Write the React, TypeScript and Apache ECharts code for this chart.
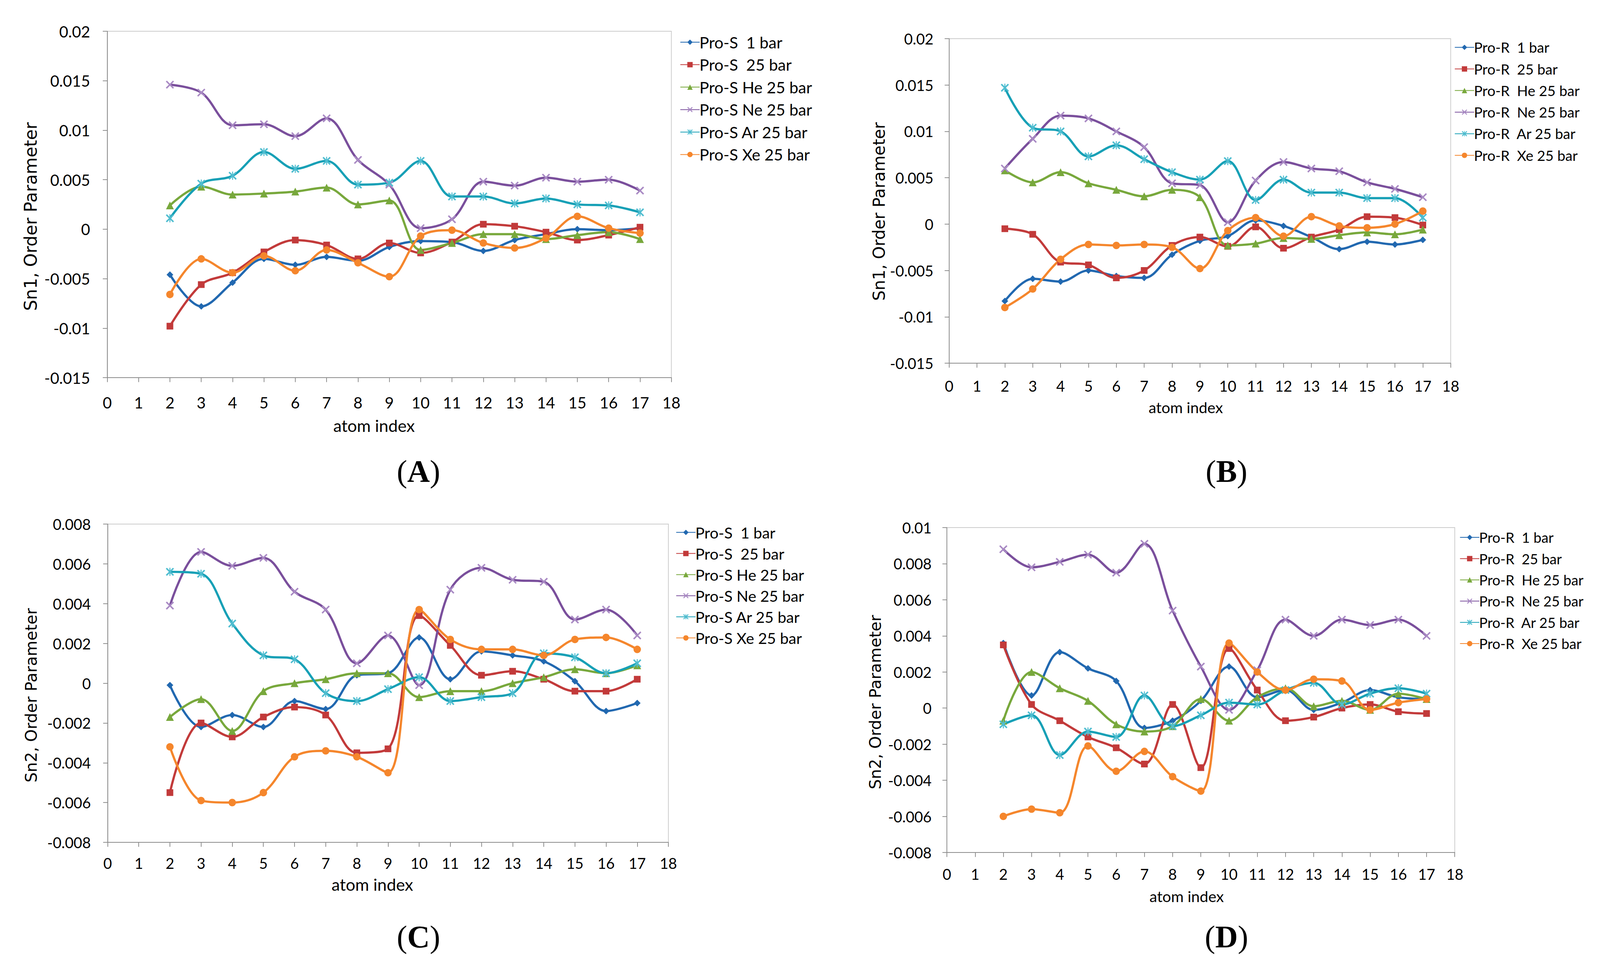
import React, { useEffect, useRef } from "react";
import * as echarts from "echarts";

// atom index (x) for every series
const atomIndex = [2, 3, 4, 5, 6, 7, 8, 9, 10, 11, 12, 13, 14, 15, 16, 17];

// ---------- Panel A : Sn1, Pro-S ----------
const namesS = ["Pro-S  1 bar", "Pro-S  25 bar", "Pro-S He 25 bar", "Pro-S Ne 25 bar", "Pro-S Ar 25 bar", "Pro-S Xe 25 bar"];
const aPro1 = [-0.0046, -0.0078, -0.0054, -0.003, -0.0036, -0.0028, -0.0032, -0.0018, -0.0012, -0.0013, -0.0022, -0.0011, -0.0005, 0.0, -0.0001, 0.0001];
const aPro25 = [-0.0098, -0.0056, -0.0044, -0.0023, -0.0011, -0.0016, -0.003, -0.0014, -0.0024, -0.0013, 0.0005, 0.0003, -0.0003, -0.0011, -0.0006, 0.0002];
const aHe = [0.0024, 0.0043, 0.0035, 0.0036, 0.0038, 0.0042, 0.0025, 0.0029, -0.0021, -0.0014, -0.0005, -0.0005, -0.001, -0.0006, -0.0003, -0.001];
const aNe = [0.0146, 0.0138, 0.0105, 0.0106, 0.0094, 0.0112, 0.007, 0.0045, 0.0001, 0.001, 0.0048, 0.0044, 0.0052, 0.0048, 0.005, 0.0039];
const aAr = [0.0011, 0.0046, 0.0054, 0.0078, 0.0061, 0.0069, 0.0045, 0.0047, 0.0069, 0.0033, 0.0033, 0.0026, 0.0031, 0.0025, 0.0024, 0.0017];
const aXe = [-0.0066, -0.003, -0.0044, -0.0027, -0.0042, -0.0021, -0.0034, -0.0048, -0.0007, -0.0001, -0.0014, -0.0019, -0.0009, 0.0013, 0.0001, -0.0004];

// ---------- Panel B : Sn1, Pro-R ----------
const namesR = ["Pro-R  1 bar", "Pro-R  25 bar", "Pro-R  He 25 bar", "Pro-R  Ne 25 bar", "Pro-R  Ar 25 bar", "Pro-R  Xe 25 bar"];
const bPro1 = [-0.0083, -0.0059, -0.0062, -0.005, -0.0056, -0.0058, -0.0033, -0.0018, -0.0013, 0.0004, -0.0002, -0.0014, -0.0027, -0.0019, -0.0022, -0.0017];
const bPro25 = [-0.0005, -0.0011, -0.0041, -0.0044, -0.0058, -0.005, -0.0023, -0.0014, -0.0024, -0.0003, -0.0026, -0.0014, -0.0006, 0.0008, 0.0007, -0.0001];
const bHe = [0.0058, 0.0045, 0.0056, 0.0044, 0.0037, 0.003, 0.0037, 0.0029, -0.0023, -0.0021, -0.0015, -0.0016, -0.0012, -0.0009, -0.0011, -0.0006];
const bNe = [0.006, 0.0092, 0.0117, 0.0114, 0.01, 0.0083, 0.0044, 0.0042, 0.0002, 0.0047, 0.0067, 0.006, 0.0057, 0.0045, 0.0038, 0.0029];
const bAr = [0.0147, 0.0104, 0.01, 0.0073, 0.0085, 0.007, 0.0056, 0.0048, 0.0068, 0.0026, 0.0048, 0.0034, 0.0034, 0.0028, 0.0028, 0.0007];
const bXe = [-0.009, -0.007, -0.0038, -0.0022, -0.0023, -0.0022, -0.0025, -0.0048, -0.0007, 0.0007, -0.0013, 0.0008, -0.0002, -0.0004, 0.0, 0.0014];

// ---------- Panel C : Sn2, Pro-S ----------
const cPro1 = [-0.0001, -0.0022, -0.0016, -0.0022, -0.0009, -0.0013, 0.0004, 0.0005, 0.0023, 0.0002, 0.0016, 0.0014, 0.0011, 0.0001, -0.0014, -0.001];
const cPro25 = [-0.0055, -0.002, -0.0027, -0.0017, -0.0012, -0.0016, -0.0035, -0.0033, 0.0034, 0.0019, 0.0004, 0.0006, 0.0002, -0.0004, -0.0004, 0.0002];
const cHe = [-0.0017, -0.0008, -0.0024, -0.0004, 0.0, 0.0002, 0.0005, 0.0005, -0.0007, -0.0004, -0.0004, 0.0, 0.0003, 0.0007, 0.0005, 0.0009];
const cNe = [0.0039, 0.0066, 0.0059, 0.0063, 0.0046, 0.0037, 0.001, 0.0024, -0.0001, 0.0047, 0.0058, 0.0052, 0.0051, 0.0032, 0.0037, 0.0024];
const cAr = [0.0056, 0.0055, 0.003, 0.0014, 0.0012, -0.0005, -0.0009, -0.0003, 0.0003, -0.0009, -0.0007, -0.0005, 0.0015, 0.0013, 0.0005, 0.001];
const cXe = [-0.0032, -0.0059, -0.006, -0.0055, -0.0037, -0.0034, -0.0037, -0.0045, 0.0037, 0.0022, 0.0017, 0.0017, 0.0014, 0.0022, 0.0023, 0.0017];

// ---------- Panel D : Sn2, Pro-R ----------
const dPro1 = [0.0036, 0.0007, 0.0031, 0.0022, 0.0015, -0.0011, -0.0007, 0.0004, 0.0023, 0.0006, 0.001, -0.0001, 0.0003, 0.001, 0.0006, 0.0005];
const dPro25 = [0.0035, 0.0002, -0.0007, -0.0016, -0.0022, -0.0031, 0.0002, -0.0033, 0.0033, 0.001, -0.0007, -0.0005, 0.0, 0.0002, -0.0002, -0.0003];
const dHe = [-0.0007, 0.002, 0.0011, 0.0004, -0.0009, -0.0013, -0.001, 0.0005, -0.0007, 0.0006, 0.0011, 0.0001, 0.0004, -0.0001, 0.0008, 0.0005];
const dNe = [0.0088, 0.0078, 0.0081, 0.0085, 0.0075, 0.0091, 0.0054, 0.0023, -0.0001, 0.0021, 0.0049, 0.004, 0.0049, 0.0046, 0.0049, 0.004];
const dAr = [-0.0009, -0.0004, -0.0026, -0.0013, -0.0016, 0.0007, -0.001, -0.0004, 0.0003, 0.0002, 0.001, 0.0014, 0.0002, 0.0008, 0.0011, 0.0008];
const dXe = [-0.006, -0.0056, -0.0058, -0.0021, -0.0035, -0.0024, -0.0038, -0.0046, 0.0036, 0.002, 0.001, 0.0016, 0.0015, -0.0001, 0.0003, 0.0005];

const yTitles = ["Sn1, Order Parameter", "Sn1, Order Parameter", "Sn2, Order Parameter", "Sn2, Order Parameter"];
const panelTags = ["A", "B", "C", "D"];

const X_PATH = "path://M0,1.3L1.3,0L5,3.7L8.7,0L10,1.3L6.3,5L10,8.7L8.7,10L5,6.3L1.3,10L0,8.7L3.7,5Z";
const AST_PATH = "path://M0,1.3L1.3,0L5,3.7L8.7,0L10,1.3L6.3,5L10,8.7L8.7,10L5,6.3L1.3,10L0,8.7L3.7,5Z M4.4,0L5.6,0L5.6,10L4.4,10Z";

const styles = [
  { line: "#2168b0", mark: "#2168b0", symbol: "diamond", size: 18 },
  { line: "#c23a3a", mark: "#c23a3a", symbol: "rect", size: 18 },
  { line: "#78a83c", mark: "#78a83c", symbol: "triangle", size: 21 },
  { line: "#7a4f9c", mark: "#a98ac4", symbol: X_PATH, size: 22 },
  { line: "#17a0b6", mark: "#4fbdd0", symbol: AST_PATH, size: 22 },
  { line: "#f5862c", mark: "#f5862c", symbol: "circle", size: 20 },
];

const FONT = "Lato, 'Liberation Sans', sans-serif";
const REF_W = 4297;
const REF_H = 2466;

export default function App() {
  const ref = useRef<HTMLDivElement>(null);
  useEffect(() => {
    const el = ref.current;
    if (!el) return;
    const W = el.clientWidth || REF_W;
    const H = el.clientHeight || REF_H;
    const sx = W / REF_W;
    const sy = H / REF_H;
    const s = Math.min(sx, sy);
    const X = (v: number) => v * sx;
    const Y = (v: number) => v * sy;
    const F = (v: number) => v * s;

    const chart = echarts.init(el, undefined, { renderer: "svg" });

    const gridsRef = [
      { left: 288, top: 80, width: 1515, height: 887 },
      { left: 2549, top: 99, width: 1347, height: 831 },
      { left: 289, top: 1342, width: 1506, height: 815 },
      { left: 2543, top: 1351, width: 1364, height: 832 },
    ];
    const yRanges = [
      { min: -0.015, max: 0.02, interval: 0.005 },
      { min: -0.015, max: 0.02, interval: 0.005 },
      { min: -0.008, max: 0.008, interval: 0.002 },
      { min: -0.008, max: 0.01, interval: 0.002 },
    ];
    const tickFont = [42, 40, 40, 40];
    const xNameFont = [45, 41, 45, 41];
    const yNameFont = [46.5, 44, 43, 43];
    const legendFont = [43, 38.5, 41.5, 38];
    const yLabelMargin = [46, 42, 45, 41];
    const xLabelMargin = [43, 39, 34, 36];
    const xNameGap = [101, 93, 86, 92];
    const xNameShift = [41, 38, 42, 38];
    const yNameGap = [183, 166, 184, 170];
    const yNameShift = [31, 27, 31, 31];
    const panelData = [
      [aPro1, aPro25, aHe, aNe, aAr, aXe],
      [bPro1, bPro25, bHe, bNe, bAr, bXe],
      [cPro1, cPro25, cHe, cNe, cAr, cXe],
      [dPro1, dPro25, dHe, dNe, dAr, dXe],
    ];
    const panelNames = [namesS, namesR, namesS, namesR];
    const legendPos = [
      { left: 1826, c1: 110, gap: 57.5 },
      { left: 3906, c1: 123, gap: 55 },
      { left: 1815, c1: 1365, gap: 53.6 },
      { left: 3920, c1: 1378, gap: 54.4 },
    ];
    const tagPos = [
      [1124, 1207],
      [3294, 1207],
      [1124, 2399],
      [3294, 2399],
    ];

    const axisLine = { show: true, onZero: false, lineStyle: { color: "#8c8c8c", width: F(2) } };
    const axisTick = { show: true, inside: false, length: F(12), lineStyle: { color: "#8c8c8c", width: F(2) } };

    const grid = gridsRef.map((g) => ({
      left: X(g.left),
      top: Y(g.top),
      width: X(g.width),
      height: Y(g.height),
      show: true,
      borderColor: "#cccccc",
      borderWidth: F(2),
      backgroundColor: "transparent",
    }));

    const xAxis = gridsRef.map((_, i) => ({
      type: "value",
      gridIndex: i,
      min: 0,
      max: 18,
      interval: 1,
      name: "atom index",
      nameLocation: "middle",
      nameGap: Y(xNameGap[i]),
      nameTextStyle: {
        fontSize: F(xNameFont[i]),
        color: "#000",
        fontFamily: FONT,
        padding: [0, X(2 * xNameShift[i]), 0, 0],
      },
      axisLine,
      axisTick,
      splitLine: { show: false },
      axisLabel: { fontSize: F(tickFont[i]), color: "#000", fontFamily: FONT, margin: Y(xLabelMargin[i]) },
    }));

    const yAxis = gridsRef.map((_, i) => ({
      type: "value",
      gridIndex: i,
      min: yRanges[i].min,
      max: yRanges[i].max,
      interval: yRanges[i].interval,
      name: yTitles[i],
      nameLocation: "middle",
      nameGap: X(yNameGap[i]),
      nameRotate: 90,
      nameTextStyle: {
        fontSize: F(yNameFont[i]),
        color: "#000",
        fontFamily: "'DejaVu Sans', sans-serif",
        padding: [0, Y(2 * yNameShift[i]), 0, 0],
      },
      axisLine,
      axisTick,
      splitLine: { show: false },
      axisLabel: {
        fontSize: F(tickFont[i]),
        color: "#000",
        fontFamily: FONT,
        margin: X(yLabelMargin[i]),
        formatter: (v: number) => String(parseFloat(v.toFixed(4))),
      },
    }));

    const series: any[] = [];
    panelData.forEach((arrs, p) => {
      arrs.forEach((arr, k) => {
        const st = styles[k];
        series.push({
          type: "line",
          name: panelNames[p][k],
          xAxisIndex: p,
          yAxisIndex: p,
          data: atomIndex.map((x, j) => [x, arr[j]]),
          smooth: 0.35,
          symbol: st.symbol,
          symbolSize: F(st.size),
          showSymbol: true,
          lineStyle: { color: st.line, width: F(6) },
          itemStyle: { color: st.mark },
          emphasis: { disabled: true },
        });
      });
    });

    const legend = legendPos.map((lp, p) => ({
      orient: "vertical",
      left: X(lp.left),
      top: Y(lp.c1) - F(legendFont[p]) / 2 - F(2),
      padding: 0,
      itemWidth: F(52),
      itemHeight: F(18),
      itemGap: Y(lp.gap) - F(legendFont[p]),
      selectedMode: false,
      textStyle: {
        fontSize: F(legendFont[p]),
        lineHeight: F(legendFont[p]),
        color: "#000",
        fontFamily: FONT,
        padding: [0, 0, 0, -F(6)],
      },
      data: panelNames[p],
    }));

    const graphic = tagPos.map((tp, i) => ({
      type: "text",
      x: X(tp[0]),
      y: Y(tp[1]),
      style: {
        text: `{p|(}{b|${panelTags[i]}}{p|)}`,
        align: "center",
        verticalAlign: "middle",
        rich: {
          p: { fontSize: F(84), fontFamily: "'Liberation Serif', serif", fill: "#000" },
          b: { fontSize: F(84), fontWeight: "bold", fontFamily: "'Liberation Serif', serif", fill: "#000" },
        },
      },
    }));

    chart.setOption({
      animation: false,
      backgroundColor: "#fff",
      grid,
      xAxis,
      yAxis,
      legend,
      series,
      graphic,
    });
    return () => chart.dispose();
  }, []);

  return <div ref={ref} style={{ position: "fixed", left: 0, top: 0, width: "100vw", height: "100vh" }} />;
}
